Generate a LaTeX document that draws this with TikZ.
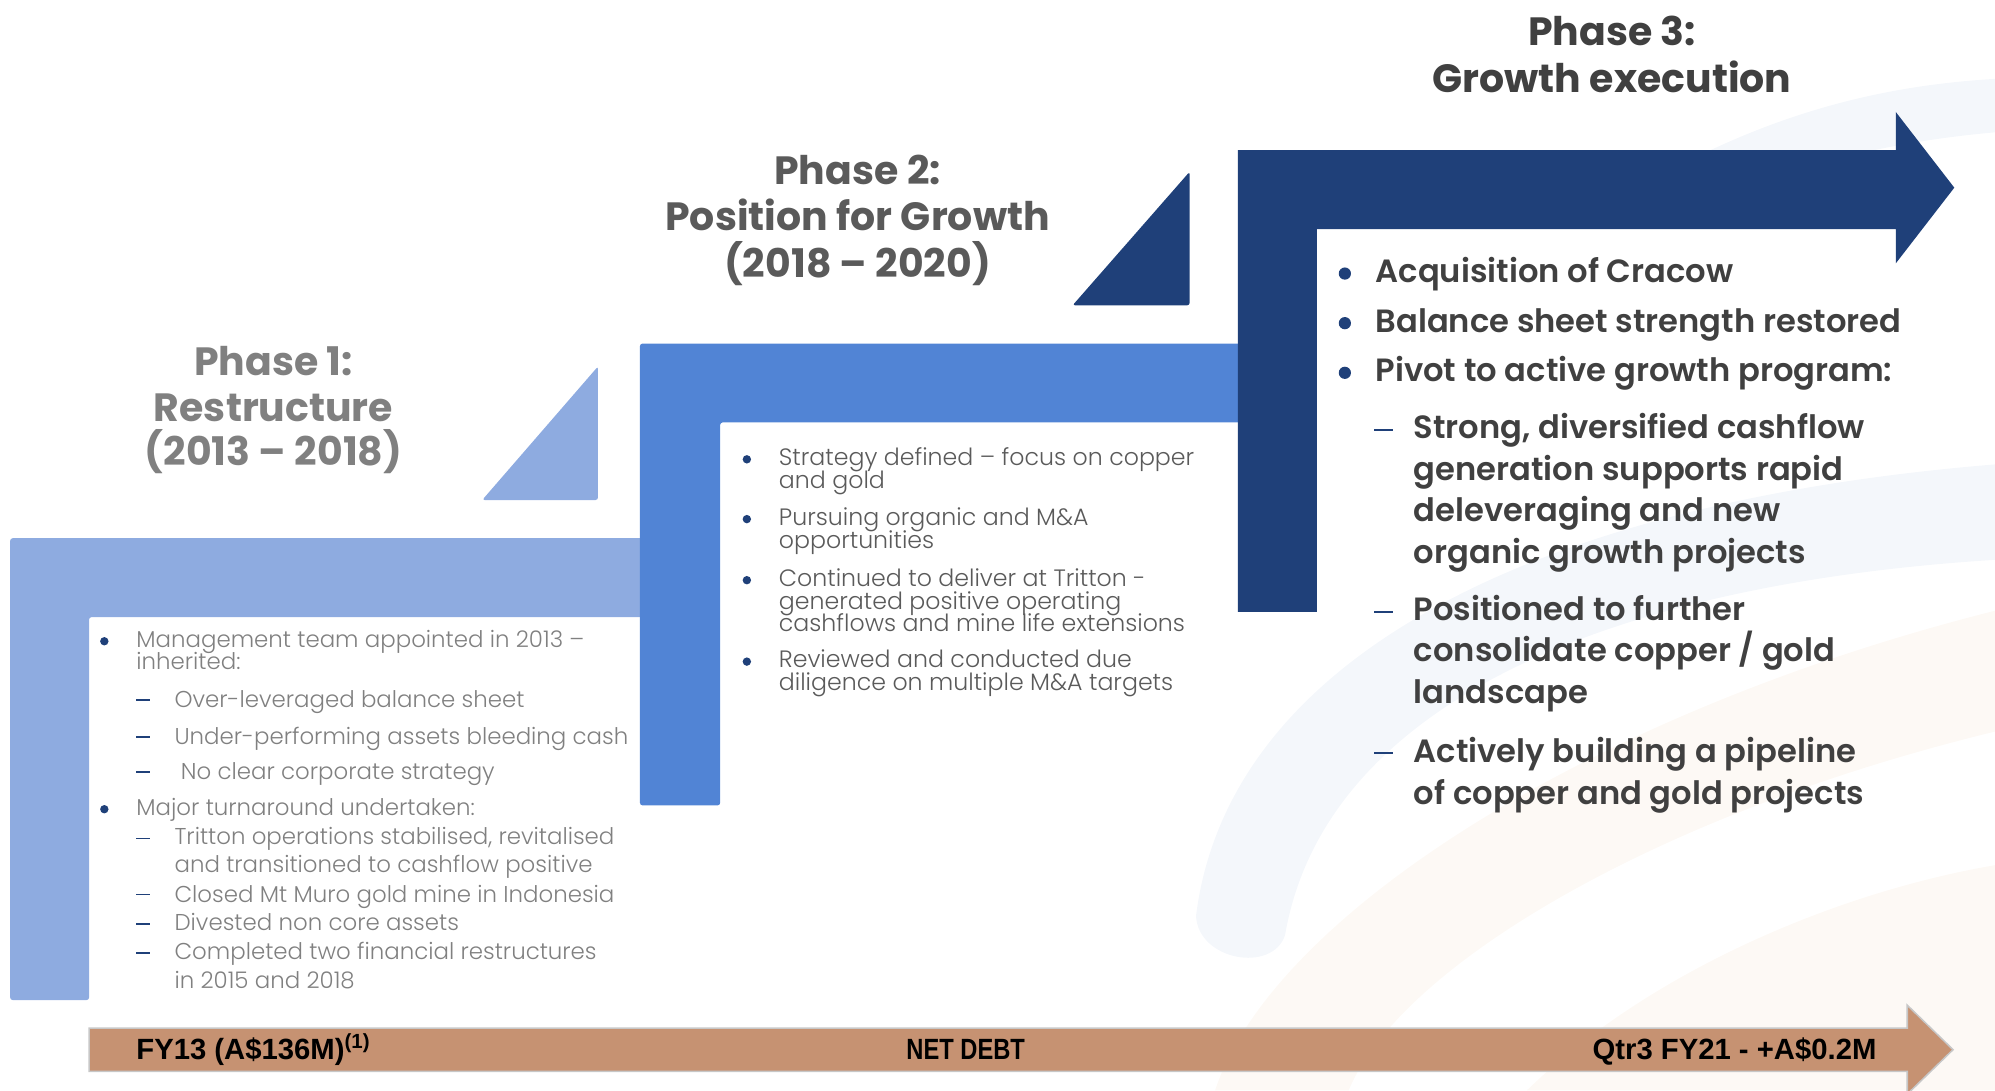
\documentclass[tikz,border=0pt]{standalone}
\usepackage{fontspec}
\setmainfont{Poppins}
\IfFontExistsTF{Poppins Light}{\newfontfamily\lightfont{Poppins Light}}{\newfontfamily\lightfont{Poppins}}
\IfFontExistsTF{Poppins SemiBold}{\newfontfamily\semifont{Poppins SemiBold}}{\newfontfamily\semifont{Poppins}[UprightFont=*-Bold]}
\newfontfamily\barfont{Liberation Sans}
\newfontfamily\barnarrow{Liberation Sans}[FakeStretch=0.81]
\definecolor{pone}{HTML}{8EABE0}
\definecolor{ptwo}{HTML}{5184D5}
\definecolor{pthree}{HTML}{1F4079}
\definecolor{tanbar}{HTML}{C69272}
\definecolor{gone}{HTML}{808080}
\definecolor{gtwo}{HTML}{5A5A5A}
\definecolor{gthree}{HTML}{404040}
\definecolor{wmblue}{HTML}{F4F7FB}
\definecolor{wmpeach}{HTML}{FDF9F5}
\tikzset{
  ttlone/.style={anchor=base, inner sep=0, text=gone, font=\bfseries\fontsize{31}{31}\selectfont},
  ttltwo/.style={anchor=base, inner sep=0, text=gtwo, font=\bfseries\fontsize{31}{31}\selectfont},
  ttlthree/.style={anchor=base, inner sep=0, text=gthree, font=\bfseries\fontsize{31}{31}\selectfont},
  bodyone/.style={anchor=base west, inner sep=0, text=gone, font=\lightfont\fontsize{18}{18}\selectfont},
  bodytwo/.style={anchor=base west, inner sep=0, text=gtwo, font=\lightfont\fontsize{18.6}{18}\selectfont},
  bodythree/.style={anchor=base west, inner sep=0, text=gthree, font=\semifont\fontsize{25.3}{25}\selectfont},
  bartext/.style={inner sep=0, text=black, font=\barfont\bfseries\fontsize{23}{23}\selectfont},
  bartextnarrow/.style={inner sep=0, text=black, font=\barnarrow\bfseries\fontsize{23}{23}\selectfont},
  dotsmall/.style={fill=pthree},
  dashline/.style={draw=pthree, line width=1.4pt},
}
\begin{document}
\begin{tikzpicture}[x=1pt,y=-1pt]
\useasboundingbox (0,0) rectangle (1568,857);
% watermark
\fill[wmblue] (1330,125) .. controls (1420,80) and (1500,66) .. (1568,62) -- (1568,104) .. controls (1500,110) and (1420,125) .. (1345,160) -- cycle;
\fill[wmblue] (940,720) .. controls (965,520) and (1200,395) .. (1568,365) -- (1568,440) .. controls (1250,460) and (1040,560) .. (1010,735) .. controls (1000,765) and (942,755) .. (940,720) -- cycle;
\fill[wmpeach] (955,857) .. controls (1000,720) and (1250,560) .. (1568,480) -- (1568,575) .. controls (1300,640) and (1100,760) .. (1060,857) -- cycle;
\fill[wmpeach] (1200,857) .. controls (1300,760) and (1450,700) .. (1568,680) -- (1568,857) -- cycle;
% phase shapes
\fill[pone, rounded corners=2] (8,423) -- (505,423) -- (505,485) -- (70,485) -- (70,786) -- (8,786) -- cycle;
\fill[pone, rounded corners=2] (379,393) -- (470,288) -- (470,393) -- cycle;
\fill[ptwo, rounded corners=2] (503,270) -- (975,270) -- (975,332) -- (566,332) -- (566,633) -- (503,633) -- cycle;
\fill[pthree, rounded corners=2] (843,240) -- (935,135) -- (935,240) -- cycle;
\fill[pthree] (973,118) -- (1490,118) -- (1490,88) -- (1536,147.5) -- (1490,207) -- (1490,180) -- (1035,180) -- (1035,481) -- (973,481) -- cycle;
% bottom arrow
\filldraw[fill=tanbar, draw=black!22, line width=1.2pt] (70,808) -- (1499,808) -- (1499,790) -- (1535,825) -- (1499,860) -- (1499,842) -- (70,842) -- cycle;
\node[bartext, anchor=base west] (fy) at (107,833) {FY13 (A\$136M)\textsuperscript{(1)}};
\node[bartextnarrow, anchor=base] (nd) at (759,833) {NET DEBT};
\node[bartext, anchor=base east] (qt) at (1475,833) {Qtr3 FY21 - +A\$0.2M};
% titles
\node[ttlone] (t1a) at (215,295) {Phase 1:};
\node[ttlone] (t1b) at (215,331) {Restructure};
\node[ttlone] (t1c) at (215,366) {(2013 – 2018)};
\node[ttltwo] (t2a) at (674,145) {Phase 2:};
\node[ttltwo] (t2b) at (674,181) {Position for Growth};
\node[ttltwo] (t2c) at (674,218) {(2018 – 2020)};
\node[ttlthree] (t3a) at (1267,36) {Phase 3:};
\node[ttlthree] (t3b) at (1267,73) {Growth execution};
% phase 1 text
\fill[dotsmall] (82,504) circle (3.3);
\node[bodyone] (a1) at (107,509) {Management team appointed in 2013 –};
\node[bodyone] (a2) at (107,526) {inherited:};
\draw[dashline] (107,550) -- (118,550);
\node[bodyone] (a3) at (137,556) {Over-leveraged balance sheet};
\draw[dashline] (107,579) -- (118,579);
\node[bodyone] (a4) at (137,585) {Under-performing assets bleeding cash};
\draw[dashline] (107,607) -- (118,607);
\node[bodyone] (a5) at (142,613) {No clear corporate strategy};
\fill[dotsmall] (82,636) circle (3.3);
\node[bodyone] (a6) at (107,641) {Major turnaround undertaken:};
\draw[dashline] (107,659) -- (118,659);
\node[bodyone] (a7) at (137,664) {Tritton operations stabilised, revitalised};
\node[bodyone] (a8) at (137,686) {and transitioned to cashflow positive};
\draw[dashline] (107,703) -- (118,703);
\node[bodyone] (a9) at (137,709) {Closed Mt Muro gold mine in Indonesia};
\draw[dashline] (107,726) -- (118,726);
\node[bodyone] (a10) at (137,731) {Divested non core assets};
\draw[dashline] (107,749) -- (118,749);
\node[bodyone] (a11) at (137,754) {Completed two financial restructures};
\node[bodyone] (a12) at (137,777) {in 2015 and 2018};
% phase 2 text
\fill[dotsmall] (587,361) circle (3.3);
\node[bodytwo] (b1) at (612,366) {Strategy defined – focus on copper};
\node[bodytwo] (b2) at (612,384) {and gold};
\fill[dotsmall] (587,408) circle (3.3);
\node[bodytwo] (b3) at (612,413) {Pursuing organic and M\&A};
\node[bodytwo] (b4) at (612,431) {opportunities};
\fill[dotsmall] (587,456) circle (3.3);
\node[bodytwo] (b5) at (612,461) {Continued to deliver at Tritton -};
\node[bodytwo] (b6) at (612,479) {generated positive operating};
\node[bodytwo] (b7) at (612,496) {cashflows and mine life extensions};
\fill[dotsmall] (587,520) circle (3.3);
\node[bodytwo] (b8) at (612,525) {Reviewed and conducted due};
\node[bodytwo] (b9) at (612,543) {diligence on multiple M\&A targets};
% phase 3 text
\fill[dotsmall] (1057,215) circle (4.8);
\node[bodythree] (c1) at (1081,222) {Acquisition of Cracow};
\fill[dotsmall] (1057,254) circle (4.8);
\node[bodythree] (c2) at (1081,261) {Balance sheet strength restored};
\fill[dotsmall] (1057,293) circle (4.8);
\node[bodythree] (c3) at (1081,300) {Pivot to active growth program:};
\draw[dashline] (1080,338) -- (1095,338);
\node[bodythree] (c4) at (1111,345) {Strong, diversified cashflow};
\node[bodythree] (c5) at (1111,378) {generation supports rapid};
\node[bodythree] (c6) at (1111,410) {deleveraging and new};
\node[bodythree] (c7) at (1111,443) {organic growth projects};
\draw[dashline] (1080,481) -- (1095,481);
\node[bodythree] (c8) at (1111,488) {Positioned to further};
\node[bodythree] (c9) at (1111,520) {consolidate copper / gold};
\node[bodythree] (c10) at (1111,553) {landscape};
\draw[dashline] (1080,592) -- (1095,592);
\node[bodythree] (c11) at (1111,599) {Actively building a pipeline};
\node[bodythree] (c12) at (1111,632) {of copper and gold projects};
\end{tikzpicture}
\end{document}
